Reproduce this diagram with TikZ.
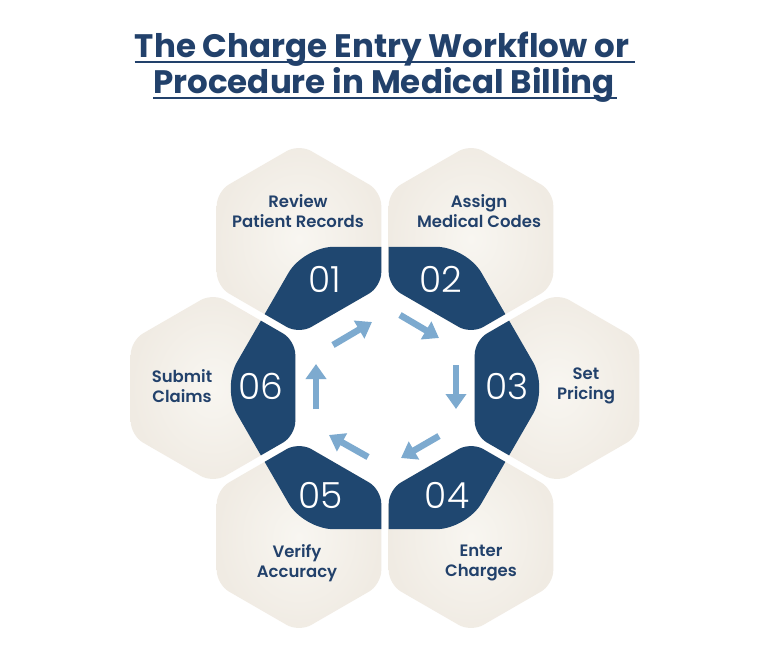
\documentclass[tikz,border=0pt]{standalone}
\usepackage{fontspec}
\setmainfont{Poppins}
\newfontfamily\titlefont{Poppins Bold}
\newfontfamily\labfont{Poppins SemiBold}
\newfontfamily\numfont{Poppins Light}
\usetikzlibrary{arrows.meta}
\definecolor{navy}{HTML}{22416B}
\definecolor{darkblue}{HTML}{1F4770}
\definecolor{creamin}{HTML}{F8F6F1}
\definecolor{creamout}{HTML}{F0EBE3}
\definecolor{arrowblue}{HTML}{7DAACF}
\newcommand\hexpath{(120:82.27) -- (150:95) -- (210:95) -- (270:95) -- (330:95) -- (30:95) -- (90:95) -- cycle}
\newcommand\bighexpath{(30:141.16) -- (60:163) -- (120:163) -- (180:163) -- (240:163) -- (300:163) -- (0:163) -- cycle}
\tikzset{
  tileshade/.style={rounded corners=14pt, inner color=creamin, outer color=creamout},
  hexround/.style={rounded corners=14pt},
  darkfill/.style={fill=darkblue, rounded corners=30pt},
  lab/.style={text=navy, font=\labfont\fontsize{16.5}{20.5}\selectfont, align=center, inner sep=0pt},
  num/.style={text=white, font=\numfont\fontsize{36}{36}\selectfont, inner sep=0pt},
  ttl/.style={text=navy, font=\titlefont\fontsize{32.5}{38}\selectfont, inner sep=0pt, anchor=base},
  uline/.style={draw=navy, line width=2pt},
  flow/.style={draw=arrowblue, line width=6.5pt, -{Triangle[length=15pt,width=20pt]}}
}
\newcommand\hextile[2]{%
  \begin{scope}[shift={(#1,#2)}]
    \shade[tileshade] \hexpath;
    \begin{scope}
      \clip[hexround] \hexpath;
      \begin{scope}[shift={(385-#1,388-#2)}]
        \fill[darkfill] \bighexpath;
      \end{scope}
    \end{scope}
  \end{scope}}
\begin{document}
\begin{tikzpicture}[x=1pt,y=-1pt]
\fill[white] (0,0) rectangle (768,649);
\useasboundingbox (0,0) rectangle (768,649);
% title
\node[ttl] (t1) at (382,57) {The Charge Entry Workflow or};
\node[ttl] (t2) at (384,93) {Procedure in Medical Billing};
\draw[uline] ([yshift=-4.5pt]t1.base west) -- ([xshift=6pt,yshift=-4.5pt]t1.base east);
\draw[uline] ([yshift=-4.5pt]t2.base west) -- ([xshift=2pt,yshift=-4.5pt]t2.base east);
% tiles
\hextile{299}{239}
\hextile{471}{239}
\hextile{557}{388}
\hextile{471}{537}
\hextile{299}{537}
\hextile{213}{388}
% numbers
\node[num] (n1) at (325,279) {01};
\node[num] (n2) at (441,279) {02};
\node[num] (n3) at (507,386) {03};
\node[num] (n4) at (447,495) {04};
\node[num] (n5) at (321,495) {05};
\node[num] (n6) at (261,386) {06};
% labels
\node[lab] (l1) at (298,211) {Review\\Patient Records};
\node[lab] (l2) at (479,211) {Assign\\Medical Codes};
\node[lab] (l3) at (586,386) {Set\\Pricing};
\node[lab] (l4) at (481,563) {Enter\\Charges};
\node[lab] (l5) at (297,563) {Verify\\Accuracy};
\node[lab] (l6) at (182,386) {Submit\\Claims};
% arrows
\coordinate (a1s) at (333,345); \coordinate (a1e) at (372,322);
\coordinate (a2s) at (400,315); \coordinate (a2e) at (439,338);
\coordinate (a3s) at (456,365); \coordinate (a3e) at (456,409);
\coordinate (a4s) at (439,436); \coordinate (a4e) at (401,458);
\coordinate (a5s) at (368,457); \coordinate (a5e) at (329,435);
\coordinate (a6s) at (316,409); \coordinate (a6e) at (316,364);
\draw[flow] (a1s) -- (a1e);
\draw[flow] (a2s) -- (a2e);
\draw[flow] (a3s) -- (a3e);
\draw[flow] (a4s) -- (a4e);
\draw[flow] (a5s) -- (a5e);
\draw[flow] (a6s) -- (a6e);
\end{tikzpicture}
\end{document}
